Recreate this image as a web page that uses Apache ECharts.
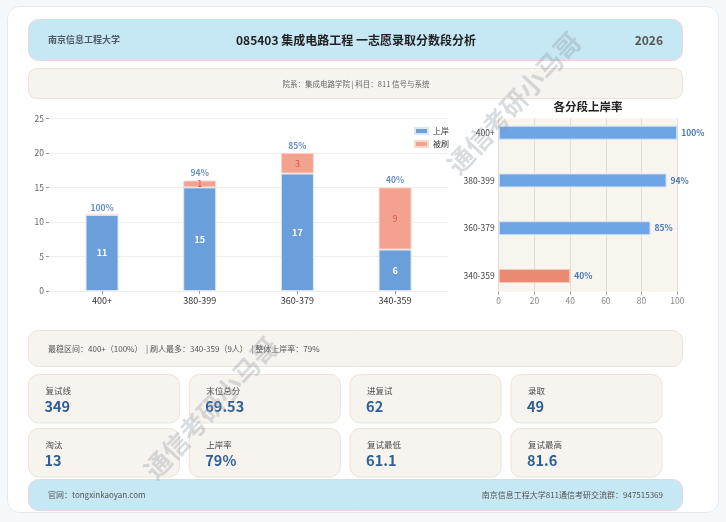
<!DOCTYPE html>
<html>
<head>
<meta charset="utf-8">
<script src="https://cdn.jsdelivr.net/npm/echarts@6/dist/echarts.min.js"></script>
<style>
html,body{margin:0;padding:0;background:#f4f8fb;}
#c{width:726px;height:522px;}
</style>
</head>
<body>
<div id="c"></div>
<script>
// ---- data ----
const categories = ['400+', '380-399', '360-379', '340-359'];
const admitted = [11, 15, 17, 6];
const eliminated = [0, 1, 3, 9];
const rates = [100, 94, 85, 40];
const leftYTicks = [0, 5, 10, 15, 20, 25];
const rightXTicks = [0, 20, 40, 60, 80, 100];
const statLabels = ['复试线', '末位总分', '进复试', '录取', '淘汰', '上岸率', '复试最低', '复试最高'];
const statValues = ['349', '69.53', '62', '49', '13', '79%', '61.1', '81.6'];
const headerLeft = '南京信息工程大学';
const headerTitle = '085403 集成电路工程 一志愿录取分数段分析';
const headerYear = '2026';
const infoText = '院系：集成电路学院 | 科目：811 信号与系统';
const summaryText = '最稳区间：400+（100%）  | 刷人最多：340-359（9人）  | 整体上岸率：79%';
const footerLeft = '官网：tongxinkaoyan.com';
const footerRight = '南京信息工程大学811通信考研交流群：947515369';
const rightTitle = '各分段上岸率';
const watermark = '通信考研小马哥';

const FONT = '"Noto Sans CJK SC","Noto Sans",sans-serif';
const chart = echarts.init(document.getElementById('c'), null, {renderer: 'canvas'});

const totals = admitted.map((a, i) => a + eliminated[i]);

// ---- graphic layout ----
const g = [];
function box(x, y, w, h, r, fill, stroke, z) {
  g.push({type: 'rect', silent: true, z: z || 0, shape: {x: x, y: y, width: w, height: h, r: r},
    style: {fill: fill, stroke: stroke, lineWidth: 1}});
}
function txt(x, y, s, size, color, weight, align, z) {
  g.push({type: 'text', silent: true, z: z || 5, x: x, y: y,
    style: {text: s, font: (weight || 'normal') + ' ' + size + 'px ' + FONT, fill: color,
      align: align || 'left', verticalAlign: 'middle'}});
}
box(7.5, 6.5, 711, 506, 12, '#ffffff', '#e3ebf2', -10);
box(28.5, 19.5, 654, 41, 10, '#c6e7f4', '#ecd4dc', -5);
txt(48, 40, headerLeft, 9, '#4d5b68', 'bold');
txt(356, 40, headerTitle, 12, '#222222', 'bold', 'center');
txt(663, 40, headerYear, 12, '#555555', 'bold', 'right');
box(28.5, 68.5, 654, 30, 8, '#f7f3ee', '#ebe3da', -5);
txt(356, 84, infoText, 7.5, '#666666', 'normal', 'center');
box(28.5, 330.5, 654, 36, 10, '#f7f3ee', '#ebe3da', -5);
txt(48, 349, summaryText, 8, '#555555');
for (let i = 0; i < statLabels.length; i++) {
  const col = i % 4, row = Math.floor(i / 4);
  const x = 28.5 + col * 160.8, y = 374.5 + row * 54;
  box(x, y, 151, 48.5, 10, '#f7f3ee', '#ebe3da', -5);
  txt(x + 17, y + 16, statLabels[i], 8.5, '#4a4a4a');
  txt(x + 16, y + 32, statValues[i], 14.5, '#2f5f97', 'bold');
}
box(28.5, 479.5, 654, 31, 10, '#c6e7f4', '#ecd4dc', -5);
txt(48, 494.5, footerLeft, 8, '#555555');
txt(663, 494.5, footerRight, 8, '#555555', 'normal', 'right');
txt(588, 106.5, rightTitle, 11.5, '#222222', 'bold', 'center');
// watermarks
[[514, 103], [211, 408]].forEach(function (p) {
  g.push({type: 'text', silent: true, z: 100, x: p[0], y: p[1], rotation: 47 * Math.PI / 180,
    style: {text: watermark, font: 'bold 26px ' + FONT, fill: 'rgba(140,150,160,0.32)',
      align: 'center', verticalAlign: 'middle'}});
});

const option = {
  animation: false,
  backgroundColor: 'transparent',
  textStyle: {fontFamily: FONT},
  graphic: g,
  legend: {
    data: ['上岸', '被刷'], orient: 'vertical', left: 409, top: 122,
    itemWidth: 13, itemHeight: 6, itemGap: 5, icon: 'rect',
    textStyle: {fontSize: 8, color: '#333'}
  },
  grid: [
    {left: 49, right: 278, top: 118.3, bottom: 231, containLabel: false},
    {left: 53.2, right: 282.1, top: 118.3, bottom: 231, containLabel: false},
    {left: 498.7, right: 48.7, top: 118.3, bottom: 230.3, show: true, backgroundColor: '#f8f4ee', borderWidth: 0},
    {left: 498.7, right: 48.7, top: 108.8, bottom: 222.1}
  ],
  xAxis: [
    {gridIndex: 0, type: 'value', min: 0, max: 1, show: false},
    {gridIndex: 1, type: 'category', data: categories,
      axisLine: {show: false}, axisTick: {show: true, alignWithLabel: true, length: 3, lineStyle: {color: '#999'}},
      axisLabel: {fontSize: 9, color: '#333', margin: 5}},
    {gridIndex: 2, type: 'value', min: 0, max: 100, interval: 20,
      axisLine: {show: false}, axisTick: {show: true, length: 3, lineStyle: {color: '#aaa'}},
      axisLabel: {fontSize: 8.5, color: '#888', margin: 5},
      splitLine: {show: true, lineStyle: {color: '#e2ddd6'}}},
    {gridIndex: 3, type: 'value', min: 0, max: 100, show: false}
  ],
  yAxis: [
    {gridIndex: 0, type: 'value', min: 0, max: 25, interval: 5,
      axisLine: {show: false}, axisTick: {show: true, length: 3, lineStyle: {color: '#999'}},
      axisLabel: {fontSize: 8.5, color: '#666', margin: 5},
      splitLine: {show: true, lineStyle: {color: '#f2ede8'}}},
    {gridIndex: 1, type: 'value', min: 0, max: 25, show: false},
    {gridIndex: 2, type: 'value', min: 0, max: 1, show: false},
    {gridIndex: 3, type: 'category', data: categories, inverse: true,
      axisLine: {show: false}, axisTick: {show: false},
      axisLabel: {fontSize: 8.5, color: '#444', margin: 4}}
  ],
  series: [
    {name: '上岸', type: 'bar', xAxisIndex: 1, yAxisIndex: 1, stack: 'a', barWidth: 33,
      data: admitted,
      itemStyle: {color: '#6a9fdc', borderColor: '#dbe7f5', borderWidth: 1},
      label: {show: true, position: 'inside', color: '#fff', fontWeight: 'bold', fontSize: 9}},
    {name: '被刷', type: 'bar', xAxisIndex: 1, yAxisIndex: 1, stack: 'a', barWidth: 33,
      data: eliminated,
      itemStyle: {color: '#f2a28f', borderColor: '#f9d8cf', borderWidth: 1},
      label: {show: true, position: 'inside', color: '#d9534f', fontSize: 9,
        formatter: function (p) { return p.value > 0 ? String(p.value) : ''; }}},
    {name: 'rate', type: 'scatter', xAxisIndex: 1, yAxisIndex: 1, symbolSize: 0,
      data: totals.map(function (t, i) { return [i, t]; }),
      label: {show: true, position: 'top', distance: 3, color: '#3d70b3', fontWeight: 'bold', fontSize: 8.5,
        formatter: function (p) { return rates[p.dataIndex] + '%'; }}},
    {name: '上岸率', type: 'bar', xAxisIndex: 3, yAxisIndex: 3, barWidth: 14,
      data: rates.map(function (r) {
        return {value: r, itemStyle: {color: r < 60 ? '#e98b73' : '#6ea5e5',
          borderColor: r < 60 ? '#f5c9bb' : '#d6e5f7', borderWidth: 1}};
      }),
      label: {show: true, position: 'right', distance: 4, color: '#4a78b5', fontWeight: 'bold', fontSize: 8.5,
        formatter: '{c}%'}}
  ]
};
chart.setOption(option);
</script>
</body>
</html>
